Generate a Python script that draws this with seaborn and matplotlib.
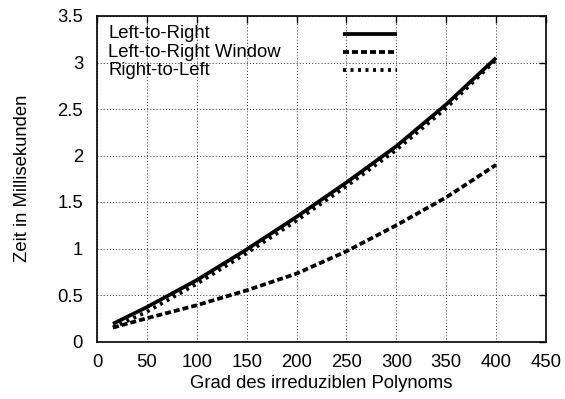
import matplotlib
matplotlib.use("Agg")
import matplotlib.pyplot as plt
import seaborn as sns
import pandas as pd

degrees = [16, 50, 100, 150, 200, 250, 300, 350, 400]
left_to_right = [0.19, 0.37, 0.66, 0.99, 1.34, 1.71, 2.10, 2.55, 3.05]
left_to_right_window = [0.15, 0.25, 0.39, 0.55, 0.73, 0.97, 1.25, 1.55, 1.90]
right_to_left = [0.15, 0.32, 0.62, 0.95, 1.30, 1.67, 2.06, 2.51, 3.03]
series_names = ["Left-to-Right", "Left-to-Right Window", "Right-to-Left"]
x_ticks = [0, 50, 100, 150, 200, 250, 300, 350, 400, 450]
y_ticks = [0, 0.5, 1, 1.5, 2, 2.5, 3, 3.5]
y_tick_labels = ["0", "0.5", "1", "1.5", "2", "2.5", "3", "3.5"]

FS = 13.3
sns.set_theme(style="white")
plt.rcParams["font.family"] = ["Liberation Sans", "DejaVu Sans"]
plt.rcParams["font.size"] = FS
plt.rcParams["text.color"] = "black"
plt.rcParams["axes.labelcolor"] = "black"

rows = []
for name, vals in zip(series_names, [left_to_right, left_to_right_window, right_to_left]):
    for d, v in zip(degrees, vals):
        rows.append({"deg": d, "ms": v, "Serie": name})
df = pd.DataFrame(rows)

dash_map = {"Left-to-Right": "", "Left-to-Right Window": (1.6, 0.8),
            "Right-to-Left": (0.8, 1.2)}
LW = 2.7

fig = plt.figure(figsize=(5.65, 3.99), dpi=100)
ax = fig.add_axes([97 / 565, (399 - 341.5) / 399, (546 - 97) / 565, (341.5 - 16) / 399])

sns.lineplot(data=df, x="deg", y="ms", hue="Serie", style="Serie",
             palette=["black"] * 3, dashes=dash_map,
             linewidth=LW, ax=ax, legend=False, sort=False)
for ln in ax.get_lines():
    ln.set_dash_capstyle("butt")
    ln.set_solid_capstyle("butt")

ax.set_xlim(0, 450)
ax.set_ylim(0, 3.5)
ax.set_xticks(x_ticks)
ax.set_yticks(y_ticks)
ax.set_yticklabels(y_tick_labels)
ax.tick_params(direction="in", length=5, width=1, top=True, right=True,
               labelsize=FS, colors="black")
ax.tick_params(axis="x", pad=9)
ax.tick_params(axis="y", pad=10)
ax.grid(True, linestyle=(0, (1, 2.2)), color="#333333", linewidth=0.7)
for s in ax.spines.values():
    s.set_color("black")
    s.set_linewidth(1.2)
ax.set_xlabel("Grad des irreduziblen Polynoms", fontsize=FS, labelpad=3, color="black")
ax.set_ylabel("Zeit in Millisekunden", fontsize=FS, labelpad=19, color="black")

# gnuplot-style key: left-aligned text, samples in a column on the right
key_y = [0.945, 0.889, 0.834]
for name, yk in zip(series_names, key_y):
    ax.text(0.025, yk, name, transform=ax.transAxes, ha="left", va="center",
            fontsize=FS, color="black")
    kl, = ax.plot([0.548, 0.668], [yk, yk], transform=ax.transAxes,
                  color="black", linewidth=LW, solid_capstyle="butt",
                  dash_capstyle="butt")
    if dash_map[name]:
        kl.set_dashes(dash_map[name])

fig.savefig("out.png", dpi=100)
